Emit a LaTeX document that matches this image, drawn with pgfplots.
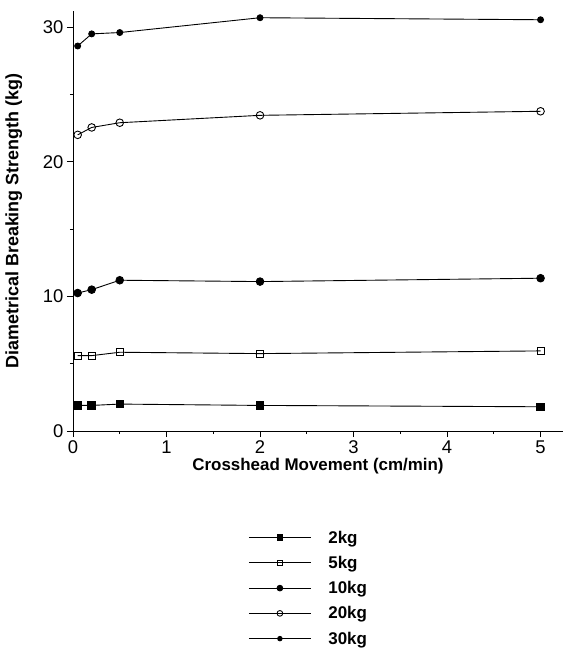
\documentclass[border=0pt]{standalone}
\usepackage{fontspec}
\setmainfont{Liberation Sans}
\usepackage{pgfplots}
\pgfplotsset{compat=1.18}
\begin{document}
\begin{tikzpicture}
\path[use as bounding box] (-73bp,-225bp) rectangle (491bp,431bp);
\begin{axis}[
at={(0,0)}, anchor=south west,
scale only axis,
width=490bp, height=420bp,
xmin=0, xmax=5.24, ymin=0, ymax=31.2,
axis x line=bottom, axis y line=left,
axis line style={-, line width=1pt},
tick align=outside,
xtick={0,1,2,3,4,5}, ytick={0,10,20,30},
minor xtick={0.5,1.5,2.5,3.5,4.5}, minor ytick={5,15,25},
major tick length=6bp, minor tick length=3bp,
tick style={black, line width=0.8pt},
/pgf/number format/assume math mode=true,
ticklabel style={font=\fontsize{18.5}{18.5}\selectfont},
xlabel={\textbf{Crosshead Movement (cm/min)}},
ylabel={\textbf{Diametrical Breaking Strength (kg)}},
xlabel style={font=\fontsize{17}{17}\selectfont, yshift=2bp},
ylabel style={font=\fontsize{18}{18}\selectfont, at={(ticklabel cs:0.5)}, yshift=14bp},
legend style={at={(0.481,-0.2275)}, anchor=north, draw=none, fill=none,
  font=\fontsize{17}{17}\selectfont\bfseries, row sep=7.5bp, column sep=15bp, cells={anchor=west}},
legend cell align=left,
legend image code/.code={\draw[mark repeat=2, mark phase=2, every mark/.append style={scale=0.75}] plot coordinates {(0bp,0bp) (31bp,0bp) (62bp,0bp)};},
every axis plot/.append style={black, line width=0.9pt},
]
\addplot[mark=square*, mark size=3.8bp] coordinates {(0.05,1.9) (0.2,1.9) (0.5,2.0) (2,1.9) (5,1.8)};
\addplot[mark=square, mark size=3.6bp, mark options={fill=white}] coordinates {(0.05,5.6) (0.2,5.6) (0.5,5.85) (2,5.75) (5,5.95)};
\addplot[mark=*, mark size=3.8bp] coordinates {(0.05,10.25) (0.2,10.5) (0.5,11.2) (2,11.1) (5,11.35)};
\addplot[mark=o, mark size=3.8bp, mark options={fill=white}] coordinates {(0.05,22.0) (0.2,22.55) (0.5,22.9) (2,23.45) (5,23.75)};
\addplot[mark=*, mark size=3bp] coordinates {(0.05,28.6) (0.2,29.5) (0.5,29.6) (2,30.7) (5,30.55)};
\legend{2kg,5kg,10kg,20kg,30kg}
\end{axis}
\end{tikzpicture}
\end{document}
